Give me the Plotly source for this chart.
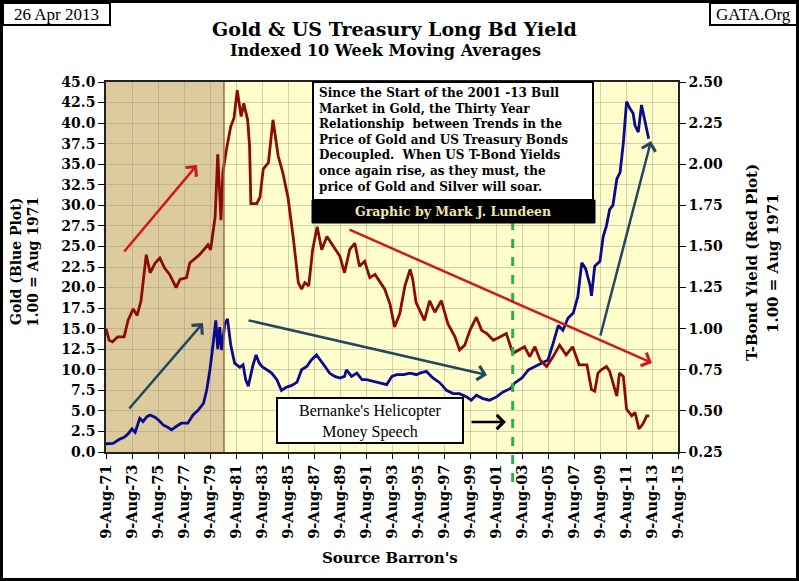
import plotly.graph_objects as go

# gold, indexed (1.00 = Aug 1971), 10 week moving average - left axis
gold_t = [1971.6, 1972.15, 1972.7, 1973.0, 1973.3, 1973.6, 1973.85, 1974.2, 1974.45, 1974.75,
          1975.0, 1975.4, 1975.7, 1976.0, 1976.35, 1976.65, 1977.0, 1977.4, 1977.9, 1978.3,
          1978.7, 1979.1, 1979.35, 1979.6, 1979.85, 1980.05, 1980.2, 1980.35, 1980.5, 1980.75,
          1980.95, 1981.2, 1981.5, 1981.9, 1982.15, 1982.35, 1982.55, 1982.9, 1983.15, 1983.4,
          1983.6, 1984.0, 1984.35, 1984.75, 1985.1, 1985.5, 1985.9, 1986.3, 1986.65, 1987.05,
          1987.4, 1987.8, 1988.05, 1988.45, 1988.8, 1989.2, 1989.6, 1989.95, 1990.1, 1990.5,
          1990.9, 1991.3, 1991.65, 1992.15, 1992.7, 1993.2, 1993.6, 1993.95, 1994.5, 1995.0,
          1995.5, 1995.75, 1996.25, 1996.75, 1997.3, 1997.8, 1998.3, 1998.8, 1999.35, 1999.7,
          2000.1, 2000.6, 2001.1, 2001.65, 2002.15, 2002.7, 2003.05, 2003.6, 2004.1, 2004.6,
          2005.1, 2005.6, 2006.0, 2006.4, 2006.75, 2007.15, 2007.55, 2007.9, 2008.2, 2008.5,
          2008.85, 2008.95, 2009.2, 2009.6, 2009.85, 2010.1, 2010.35, 2010.6, 2010.9, 2011.15,
          2011.4, 2011.65, 2011.9, 2012.15, 2012.3, 2012.55, 2012.8, 2013.05, 2013.35]
gold_v = [1.0, 1.05, 1.6, 1.8, 2.2, 2.8, 2.4, 4.1, 3.7, 4.3,
          4.5, 4.2, 3.8, 3.3, 3.0, 2.7, 3.1, 3.5, 3.5, 4.5,
          5.1, 5.9, 7.5, 10.0, 13.2, 16.0, 12.5, 15.2, 12.4, 15.6,
          16.2, 13.0, 10.8, 10.3, 10.6, 8.8, 8.0, 10.5, 11.8, 10.8,
          10.4, 10.0, 9.6, 8.8, 7.5, 7.9, 8.1, 8.5, 10.0, 10.4,
          11.2, 11.8, 11.2, 10.4, 9.6, 9.2, 9.0, 9.2, 10.0, 9.2,
          9.6, 8.8, 8.8, 8.6, 8.4, 8.2, 9.2, 9.4, 9.4, 9.6,
          9.4, 9.6, 9.8, 9.0, 8.4, 7.5, 7.1, 7.1, 6.7, 6.3,
          6.9, 6.5, 6.3, 6.7, 7.3, 7.7, 8.4, 9.0, 10.0, 10.4,
          10.8, 11.2, 13.2, 15.4, 14.8, 16.3, 16.9, 18.9, 23.0, 22.3,
          20.2, 19.0, 22.6, 23.2, 26.2, 27.5, 29.5, 30.0, 33.2, 34.0,
          37.6, 42.6, 41.8, 41.2, 39.7, 38.9, 42.2, 40.5, 38.1]

# long bond yield, indexed (1.00 = Aug 1971) - right axis
bond_t = [1971.6, 1971.85, 1972.1, 1972.5, 1973.0, 1973.3, 1973.7, 1974.0, 1974.3, 1974.55,
          1974.7, 1975.0, 1975.4, 1975.75, 1976.1, 1976.5, 1977.0, 1977.3, 1977.8, 1978.05,
          1978.8, 1979.45, 1979.65, 1980.0, 1980.2, 1980.3, 1980.45, 1980.6, 1980.85, 1981.2,
          1981.45, 1981.7, 1982.0, 1982.2, 1982.5, 1982.65, 1982.75, 1983.2, 1983.45, 1983.7,
          1984.1, 1984.45, 1984.85, 1985.2, 1985.6, 1986.0, 1986.4, 1986.65, 1986.9, 1987.2,
          1987.5, 1987.85, 1988.2, 1988.6, 1989.1, 1989.6, 1989.95, 1990.35, 1990.75, 1991.1,
          1991.5, 1991.9, 1992.3, 1992.7, 1993.05, 1993.45, 1993.8, 1994.2, 1994.6, 1995.0,
          1995.2, 1995.45, 1995.75, 1996.1, 1996.5, 1996.9, 1997.4, 1997.9, 1998.45, 1998.8,
          1999.2, 1999.6, 2000.1, 2000.5, 2000.9, 2001.4, 2001.9, 2002.4, 2002.9, 2003.4,
          2003.8, 2004.2, 2004.6, 2005.0, 2005.5, 2006.0, 2006.5, 2007.0, 2007.5, 2008.0,
          2008.6, 2008.95, 2009.2, 2009.45, 2009.7, 2010.1, 2010.35, 2010.75, 2010.9, 2011.1,
          2011.4, 2011.65, 2012.05, 2012.3, 2012.6, 2012.9, 2013.2, 2013.4]
bond_v = [1.00, 0.93, 0.92, 0.95, 0.95, 1.05, 1.12, 1.08, 1.17, 1.35,
          1.45, 1.34, 1.40, 1.43, 1.37, 1.33, 1.25, 1.30, 1.31, 1.40,
          1.45, 1.51, 1.48, 1.68, 2.06, 1.90, 1.66, 1.95, 2.08, 2.23,
          2.28, 2.45, 2.29, 2.37, 2.27, 2.11, 1.76, 1.76, 1.80, 1.97,
          2.01, 2.27, 2.05, 1.95, 1.80, 1.56, 1.28, 1.24, 1.28, 1.26,
          1.48, 1.62, 1.48, 1.56, 1.50, 1.44, 1.34, 1.48, 1.52, 1.38,
          1.41, 1.31, 1.33, 1.28, 1.24, 1.15, 1.01, 1.09, 1.26, 1.36,
          1.30, 1.16, 1.11, 1.05, 1.17, 1.10, 1.17, 1.03, 0.95, 0.87,
          0.90, 0.99, 1.07, 0.99, 0.97, 0.93, 0.95, 0.97, 0.85, 0.87,
          0.89, 0.83, 0.89, 0.81, 0.77, 0.83, 0.90, 0.84, 0.89, 0.78,
          0.78, 0.63, 0.62, 0.73, 0.75, 0.77, 0.74, 0.63, 0.59, 0.73,
          0.71, 0.51, 0.47, 0.49, 0.39, 0.42, 0.47, 0.47]

tick_years = list(range(1971, 2016, 2))
tick_labels = [f'9-Aug-{y % 100:02d}' for y in tick_years]
aug9 = 0.605
bear_end = 1980.68        # end of the shaded 70s bull market
bernanke = 2002.89        # 21 Nov 2002 speech

# plot area in pixels: left 106, right 678, top 82, bottom 452
def px(x):
    return (x - 106) / 572
def py(y):
    return (452 - y) / 370

SERIF = 'DejaVu Serif'
TIMES = 'Liberation Serif'

fig = go.Figure()
fig.add_trace(go.Scatter(x=gold_t, y=gold_v, mode='lines', line=dict(color='#0A0A8C', width=2.8),
                         showlegend=False))
fig.add_trace(go.Scatter(x=bond_t, y=bond_v, mode='lines', yaxis='y2',
                         line=dict(color='#8B0A0A', width=2.8), showlegend=False))

shapes = [
    dict(type='rect', xref='x', yref='paper', x0=1971.605, x1=bear_end, y0=0, y1=1,
         fillcolor='#DDCB9E', line_width=0, layer='below'),
    dict(type='line', xref='x', yref='paper', x0=bear_end, x1=bear_end, y0=0, y1=1,
         line=dict(color='#9A6A4A', width=1.5)),
    dict(type='line', xref='x', yref='paper', x0=bernanke, x1=bernanke, y0=py(482), y1=py(205),
         line=dict(color='#22B24C', width=3, dash='dash')),
    dict(type='rect', xref='paper', yref='paper', x0=px(313), x1=px(593), y0=py(200), y1=py(82),
         fillcolor='white', line=dict(color='black', width=2)),
    dict(type='rect', xref='paper', yref='paper', x0=px(312), x1=px(595), y0=py(223), y1=py(200),
         fillcolor='black', line=dict(color='black', width=1)),
    dict(type='rect', xref='paper', yref='paper', x0=px(277), x1=px(463), y0=py(443), y1=py(398),
         fillcolor='white', line=dict(color='black', width=2)),
    dict(type='rect', xref='paper', yref='paper', x0=px(3), x1=px(110), y0=py(25), y1=py(3),
         fillcolor='white', line=dict(color='black', width=2)),
    dict(type='rect', xref='paper', yref='paper', x0=px(710), x1=px(797), y0=py(25), y1=py(3),
         fillcolor='white', line=dict(color='black', width=2)),
    dict(type='rect', xref='paper', yref='paper', x0=px(1.5), x1=px(797.5), y0=py(579.5), y1=py(1.5),
         line=dict(color='black', width=3)),
]

def txt(x, y, text, size, family=SERIF, bold=True, angle=0, color='black',
        xanchor='center', yanchor='middle', **kw):
    return dict(x=px(x), y=py(y), xref='paper', yref='paper', text=text, showarrow=False,
                textangle=angle, xanchor=xanchor, yanchor=yanchor,
                font=dict(family=family, size=size, color=color,
                          weight='bold' if bold else 'normal'), **kw)

def arrow(hx, hy, tx, ty, color):
    return dict(x=px(hx), y=py(hy), xref='paper', yref='paper', ax=tx - hx, ay=ty - hy,
                text='', showarrow=True, arrowhead=4, arrowsize=1.1, arrowwidth=2.5,
                arrowcolor=color, standoff=0)

red_arrow = '#CC1A1A'
blue_arrow = '#23475E'

annotations = [
    txt(394, 29, 'Gold &amp; US Treasury Long Bd Yield', 19),
    txt(385, 50, 'Indexed 10 Week Moving Averages', 16),
    txt(56, 14, '26 Apr 2013', 17, family=TIMES, bold=False),
    txt(753, 14, 'GATA.Org', 17, family=TIMES, bold=False),
    txt(16, 262, 'Gold (Blue Plot)', 14, angle=-90),
    txt(33, 262, '1.00 = Aug 1971', 14, angle=-90),
    txt(752, 263, 'T-Bond Yield (Red Plot)', 15, angle=-90),
    txt(773, 263, '1.00 = Aug 1971', 15, angle=-90),
    txt(390, 558, "Source Barron's", 15),
    txt(317, 84, 'Since the Start of the 2001 -13 Bull<br>Market in Gold, the Thirty Year<br>'
        'Relationship  between Trends in the<br>Price of Gold and US Treasury Bonds<br>'
        'Decoupled.  When US T-Bond Yields<br>once again rise, as they must, the<br>'
        'price of Gold and Silver will soar.', 12, xanchor='left', yanchor='top', align='left'),
    txt(453, 211.5, 'Graphic by Mark J. Lundeen', 12.5, color='#EFE6A8'),
    txt(370, 421, "Bernanke's Helicopter<br>Money Speech", 16, family=TIMES, bold=False),
    arrow(197, 165, 123, 253, red_arrow),
    arrow(203, 323, 128, 410, blue_arrow),
    arrow(487, 375, 247, 320, blue_arrow),
    arrow(652, 363, 348, 229, red_arrow),
    arrow(651, 141, 600, 337, blue_arrow),
    arrow(506, 422, 470, 422, 'black'),
]

tickfont = dict(family=SERIF, size=14, color='black', weight='bold')
grid = 'rgba(150,150,140,0.45)'

fig.update_layout(
    width=799, height=581, autosize=False,
    margin=dict(l=106, r=121, t=82, b=129),
    paper_bgcolor='white', plot_bgcolor='#FFFDCB',
    shapes=shapes, annotations=annotations, showlegend=False,
    xaxis=dict(range=[1971.605, 2015.605], tickvals=[y + aug9 for y in tick_years],
               ticktext=tick_labels, tickangle=-90, ticks='outside', ticklen=5,
               tickcolor='black', showgrid=True, gridcolor=grid, zeroline=False,
               showline=True, linecolor='#222', linewidth=1.5, mirror=True,
               tickfont=dict(family=SERIF, size=14.5, color='black', weight='bold')),
    yaxis=dict(range=[0, 45], dtick=2.5, tickformat='.1f', ticks='outside', ticklen=6,
               tickcolor='black', showgrid=True, gridcolor=grid, zeroline=False,
               showline=True, linecolor='#222', linewidth=1.5, tickfont=tickfont),
    yaxis2=dict(range=[0.25, 2.5], dtick=0.25, tickformat='.2f', overlaying='y', side='right',
                ticks='outside', ticklen=6, tickcolor='black', showgrid=False, zeroline=False,
                showline=True, linecolor='#222', linewidth=1.5, tickfont=tickfont),
)

# the page body has an 8px default margin; drop it so the chart sits at the window corner
fig.write_html('out.html', config={'displayModeBar': False},
               post_script="document.body.style.margin='0';")
